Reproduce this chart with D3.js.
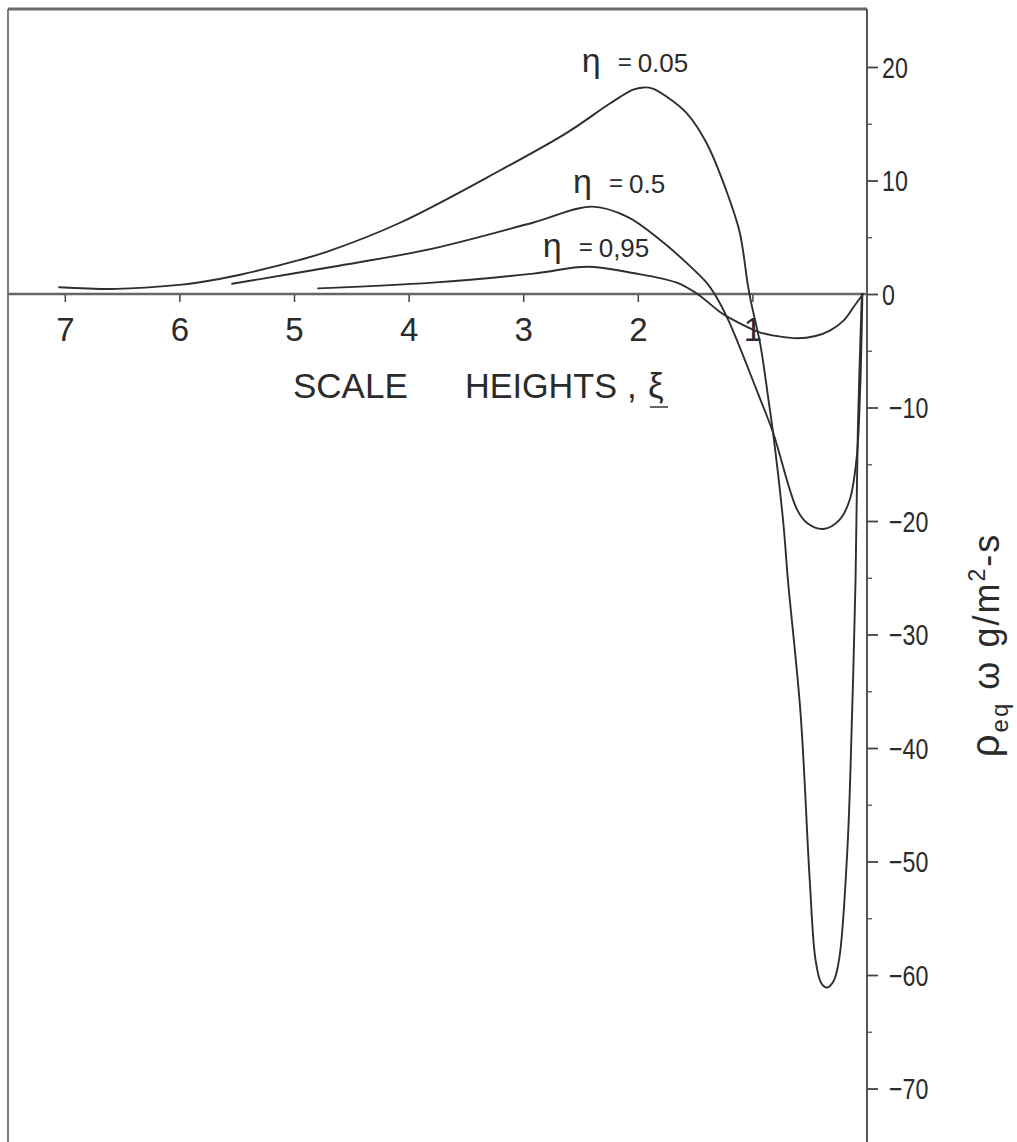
<!DOCTYPE html>
<html><head><meta charset="utf-8">
<script src="https://cdn.jsdelivr.net/npm/d3@7"></script>
<style>
html,body{margin:0;padding:0;background:#fff;}
svg{display:block;}
text{font-family:"Liberation Sans",Arial,sans-serif;fill:#2b2b2b;}
</style></head><body>
<svg id="chart" width="1017" height="1142"></svg>
<script>
// ---- data ----
const xiTicks = [7, 6, 5, 4, 3, 2, 1];
const yMajorTicks = [20, 10, 0, -10, -20, -30, -40, -50, -60, -70];
const yMinorTicks = [15, 5, -5, -15, -25, -35, -45, -55, -65, -75];

// [xi (scale heights), rho_eq*omega*g  (g/m^2-s)]
const eta005 = [
  [7.05, 0.6], [6.55, 0.45], [6.0, 0.8], [5.82, 1.03], [5.47, 1.7], [4.95, 3.0], [4.69, 3.8],
  [4.07, 6.3], [3.2, 10.9], [2.62, 14.2], [2.24, 16.8], [2.04, 18.0], [1.95, 18.2], [1.87, 18.1],
  [1.75, 17.4], [1.57, 15.9], [1.40, 13.3], [1.22, 8.9], [1.11, 5.4], [1.04, 0.8], [1.01, -0.8],
  [0.93, -4.5], [0.86, -9.3], [0.82, -12.2], [0.73, -20.2], [0.69, -25.2], [0.58, -36.9],
  [0.50, -51.6], [0.45, -58.6], [0.40, -60.7], [0.35, -61.1], [0.29, -60.5], [0.24, -58.4],
  [0.17, -48.7], [0.13, -36.9], [0.10, -25.2], [0.08, -12.0], [0.045, 0]
];
const eta05 = [
  [5.54, 0.9], [4.66, 2.4], [3.79, 4.0], [2.91, 6.3], [2.4, 7.7], [2.09, 6.8], [1.81, 4.8],
  [1.57, 2.7], [1.40, 1.0], [1.33, 0], [1.21, -2.3], [0.95, -8.8], [0.82, -12.2], [0.61, -19.0],
  [0.52, -20.2], [0.38, -20.7], [0.24, -19.9], [0.15, -18.1], [0.09, -14.4], [0.06, -8.5], [0.04, 0]
];
const eta095 = [
  [4.79, 0.5], [3.79, 1.0], [2.91, 1.8], [2.44, 2.4], [2.04, 1.85], [1.66, 1.0], [1.48, 0],
  [1.28, -1.6], [1.2, -2.1], [0.93, -3.4], [0.79, -3.7], [0.61, -3.9], [0.45, -3.7],
  [0.32, -3.2], [0.20, -2.3], [0.10, -0.9], [0.035, 0]
];
const seriesData = [eta005, eta05, eta095];
const labelValues = ["0.05", "0.5", "0,95"];
const labelXi = [2.49, 2.565, 2.83];
const labelV = [19.6, 8.9, 3.26];

// ---- drawing ----
const svg = d3.select("#chart");
const x = d3.scaleLinear().domain([0, 7]).range([867, 64.8]);
const y = d3.scaleLinear().domain([0, -70]).range([294, 1088.5]);
const X0 = x(0), Y0 = y(0);
const TOP = 9, BOTTOM = 1142, LEFT = 8;

// frame
svg.append("line").attr("x1", LEFT).attr("x2", X0).attr("y1", TOP).attr("y2", TOP)
  .attr("stroke", "#6a6a6a").attr("stroke-width", 3);
svg.append("line").attr("x1", LEFT).attr("x2", LEFT).attr("y1", TOP).attr("y2", BOTTOM)
  .attr("stroke", "#555").attr("stroke-width", 1.5);
svg.append("line").attr("x1", X0).attr("x2", X0).attr("y1", TOP).attr("y2", BOTTOM)
  .attr("stroke", "#444").attr("stroke-width", 1.8);

// zero line (x-axis)
svg.append("line").attr("x1", LEFT).attr("x2", X0).attr("y1", Y0).attr("y2", Y0)
  .attr("stroke", "#666").attr("stroke-width", 2.5);

// x axis ticks / labels
const gx = svg.append("g").attr("transform", `translate(0,${Y0 + 1})`)
  .call(d3.axisBottom(x).tickValues(xiTicks).tickSize(7).tickFormat(d3.format("d")));
gx.select(".domain").remove();
gx.selectAll(".tick line").attr("stroke", "#444").attr("stroke-width", 1.5);
gx.selectAll(".tick text").attr("dy", null).attr("y", 46)
  .style("font-size", "33px").style("font-family", "Liberation Sans, Arial, sans-serif").attr("fill", "#333");

// y axis (right side, at xi = 0)
const gy = svg.append("g").attr("transform", `translate(${X0},0)`)
  .call(d3.axisRight(y).tickValues(yMajorTicks).tickSize(11)
    .tickFormat(d => d < 0 ? "\u2212" + Math.abs(d) : String(d)));
gy.select(".domain").remove();
gy.selectAll(".tick line").attr("stroke", "#444").attr("stroke-width", 1.8);
gy.selectAll(".tick text")
  .attr("x", 0).attr("dy", "0.36em")
  .attr("transform", d => `translate(${d < 0 ? 22 : 15},0) scale(0.8,1)`)
  .style("font-size", "29px").style("font-family", "Liberation Sans, Arial, sans-serif").attr("fill", "#333");

const gym = svg.append("g").attr("transform", `translate(${X0},0)`)
  .call(d3.axisRight(y).tickValues(yMinorTicks).tickSize(5).tickFormat(""));
gym.select(".domain").remove();
gym.selectAll(".tick line").attr("stroke", "#555").attr("stroke-width", 1.3);

// curves
const line = d3.line().x(d => x(d[0])).y(d => y(d[1])).curve(d3.curveCatmullRom.alpha(0.5));
svg.append("g").selectAll("path").data(seriesData).join("path")
  .attr("d", line).attr("fill", "none").attr("stroke", "#2e2e2e").attr("stroke-width", 1.9)
  .attr("stroke-linejoin", "round").attr("stroke-linecap", "round");

// curve labels
const lab = svg.append("g").selectAll("g").data(labelValues).join("g")
  .attr("transform", (d, i) => `translate(${x(labelXi[i])},${y(labelV[i])})`);
lab.append("text").attr("x", 0).attr("y", 0).style("font-size", "34px").text("\u03b7");
lab.append("text").attr("x", 36).attr("y", -2).style("font-size", "24px").text("=");
lab.append("text").attr("x", 56).attr("y", 0).style("font-size", "26px").text(d => d);

// x-axis title
svg.append("text").attr("x", 293).attr("y", 398).style("font-size", "35px").text("SCALE");
svg.append("text").attr("x", 465).attr("y", 398).style("font-size", "35px")
  .attr("textLength", 152).attr("lengthAdjust", "spacingAndGlyphs").text("HEIGHTS");
svg.append("text").attr("x", 627).attr("y", 398).style("font-size", "35px").text(",");
svg.append("text").attr("x", 648).attr("y", 398).style("font-size", "35px").text("\u03be");
svg.append("line").attr("x1", 650).attr("x2", 668).attr("y1", 407).attr("y2", 407)
  .attr("stroke", "#333").attr("stroke-width", 1.5);

// y-axis title (rotated)
const yt = svg.append("text").attr("transform", "translate(999,645) rotate(-90)")
  .attr("text-anchor", "middle").style("font-size", "36px").style("letter-spacing", "2px");
yt.append("tspan").style("font-size", "40px").text("\u03c1");
yt.append("tspan").attr("dy", 9).style("font-size", "24px").text("eq");
yt.append("tspan").attr("dy", -9).text(" \u03c9 g/m");
yt.append("tspan").attr("dy", -14).style("font-size", "23px").text("2");
yt.append("tspan").attr("dy", 14).text("-s");
</script>
</body></html>
